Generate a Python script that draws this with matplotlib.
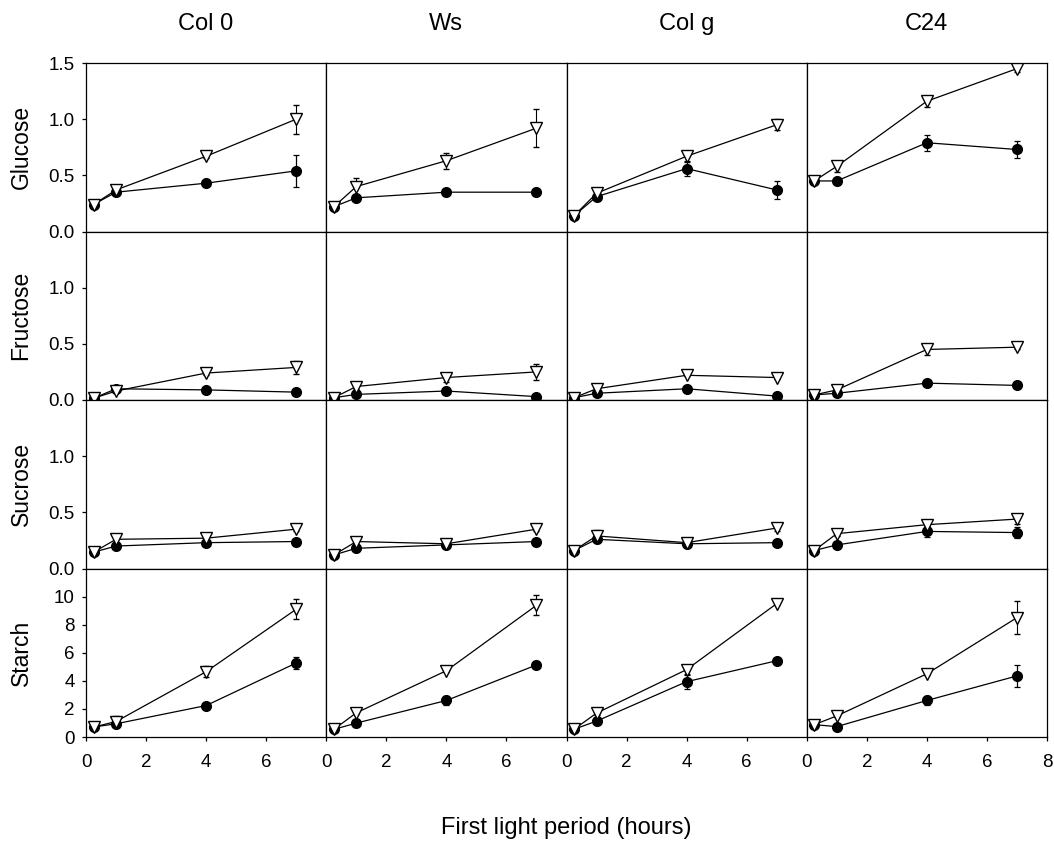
import matplotlib
matplotlib.use("Agg")
import matplotlib.pyplot as plt
import numpy as np

plt.rcParams['font.family'] = ['Liberation Sans', 'DejaVu Sans']

genotypes = ["Col 0", "Ws", "Col g", "C24"]
sugars = ["Glucose", "Fructose", "Sucrose", "Starch"]
hours = [0.25, 1, 4, 7]

# open triangles (upper series) and filled circles (lower series)
# each: [genotype][time]
glucose_tri = [[0.24, 0.37, 0.67, 1.00], [0.22, 0.40, 0.63, 0.92],
               [0.14, 0.34, 0.67, 0.95], [0.45, 0.58, 1.16, 1.45]]
glucose_tri_err = [[0.03, 0.03, 0.02, 0.13], [0.01, 0.08, 0.07, 0.17],
                   [0.01, 0.03, 0.05, 0.05], [0.02, 0.05, 0.05, 0.03]]
glucose_cir = [[0.24, 0.35, 0.43, 0.54], [0.22, 0.30, 0.35, 0.35],
               [0.14, 0.31, 0.56, 0.37], [0.45, 0.45, 0.79, 0.73]]
glucose_cir_err = [[0.03, 0.02, 0.02, 0.14], [0.01, 0.02, 0.01, 0.01],
                   [0.01, 0.02, 0.07, 0.08], [0.02, 0.01, 0.07, 0.08]]

fructose_tri = [[0.015, 0.08, 0.24, 0.29], [0.02, 0.12, 0.20, 0.25],
                [0.02, 0.10, 0.22, 0.20], [0.045, 0.09, 0.45, 0.47]]
fructose_tri_err = [[0.01, 0.01, 0.02, 0.06], [0.01, 0.02, 0.04, 0.07],
                    [0.01, 0.01, 0.01, 0.01], [0.01, 0.01, 0.05, 0.02]]
fructose_cir = [[0.015, 0.10, 0.09, 0.07], [0.02, 0.05, 0.08, 0.03],
                [0.02, 0.06, 0.10, 0.035], [0.045, 0.06, 0.15, 0.13]]
fructose_cir_err = [[0.01, 0.01, 0.01, 0.01], [0.01, 0.01, 0.01, 0.01],
                    [0.01, 0.01, 0.01, 0.01], [0.01, 0.01, 0.02, 0.01]]

sucrose_tri = [[0.145, 0.26, 0.27, 0.35], [0.12, 0.24, 0.22, 0.35],
               [0.16, 0.29, 0.23, 0.36], [0.16, 0.31, 0.39, 0.44]]
sucrose_tri_err = [[0.01, 0.02, 0.02, 0.02], [0.01, 0.02, 0.02, 0.02],
                   [0.01, 0.05, 0.01, 0.03], [0.01, 0.02, 0.03, 0.04]]
sucrose_cir = [[0.145, 0.20, 0.23, 0.24], [0.12, 0.18, 0.21, 0.24],
               [0.16, 0.26, 0.22, 0.23], [0.16, 0.21, 0.33, 0.32]]
sucrose_cir_err = [[0.01, 0.02, 0.02, 0.02], [0.01, 0.02, 0.01, 0.01],
                   [0.01, 0.02, 0.01, 0.01], [0.01, 0.02, 0.05, 0.05]]

starch_tri = [[0.71, 1.1, 4.65, 9.1], [0.54, 1.72, 4.72, 9.38],
              [0.55, 1.7, 4.8, 9.5], [0.88, 1.5, 4.5, 8.5]]
starch_tri_err = [[0.1, 0.4, 0.4, 0.7], [0.1, 0.1, 0.1, 0.7],
                  [0.1, 0.1, 0.3, 0.1], [0.1, 0.1, 0.1, 1.2]]
starch_cir = [[0.71, 0.94, 2.24, 5.27], [0.54, 0.99, 2.6, 5.13],
              [0.55, 1.13, 3.94, 5.43], [0.88, 0.74, 2.6, 4.35]]
starch_cir_err = [[0.1, 0.1, 0.1, 0.4], [0.1, 0.1, 0.3, 0.2],
                  [0.1, 0.1, 0.5, 0.1], [0.1, 0.1, 0.3, 0.8]]

tri_data = [glucose_tri, fructose_tri, sucrose_tri, starch_tri]
tri_errs = [glucose_tri_err, fructose_tri_err, sucrose_tri_err, starch_tri_err]
cir_data = [glucose_cir, fructose_cir, sucrose_cir, starch_cir]
cir_errs = [glucose_cir_err, fructose_cir_err, sucrose_cir_err, starch_cir_err]

ylims = [(0, 1.5), (0, 1.5), (0, 1.5), (0, 12)]
yticks = [[0.0, 0.5, 1.0, 1.5], [0.0, 0.5, 1.0], [0.0, 0.5, 1.0], [0, 2, 4, 6, 8, 10]]
ylabels = [["0.0", "0.5", "1.0", "1.5"], ["0.0", "0.5", "1.0"], ["0.0", "0.5", "1.0"],
           ["0", "2", "4", "6", "8", "10"]]

W, H = 1054, 843
fig = plt.figure(figsize=(W / 100, H / 100), dpi=100)
L, R, T, B = 86, 1047, 63, 737
gs = fig.add_gridspec(4, 4, left=L/W, right=R/W, top=1-T/H, bottom=1-B/H,
                      hspace=0, wspace=0)

for r in range(4):
    for c in range(4):
        ax = fig.add_subplot(gs[r, c])
        ax.errorbar(hours, cir_data[r][c], yerr=cir_errs[r][c], color='black', lw=0.9,
                    marker='o', ms=7, mfc='black', mec='black', elinewidth=0.9,
                    capsize=2, capthick=0.9, zorder=2)
        ax.errorbar(hours, tri_data[r][c], yerr=tri_errs[r][c], color='black', lw=0.9,
                    marker='v', ms=8, mfc='white', mec='black', mew=1.0, elinewidth=0.8,
                    capsize=2, capthick=0.8, zorder=3)
        ax.set_xlim(0, 8)
        ax.set_ylim(*ylims[r])
        for s in ax.spines.values():
            s.set_linewidth(0.9)
        ax.tick_params(direction='out', length=3, width=0.9, labelsize=13.5)
        ax.tick_params(axis='x', pad=9)
        ax.tick_params(axis='y', pad=5)
        ax.set_xticks([0, 2, 4, 6, 8] if c == 3 else [0, 2, 4, 6])
        if r == 3:
            ax.set_xticklabels(["0", "2", "4", "6", "8"] if c == 3 else ["0", "2", "4", "6"])
        else:
            ax.tick_params(axis='x', length=0, labelbottom=False)
        if c == 0:
            ax.set_yticks(yticks[r])
            ax.set_yticklabels(ylabels[r])
        else:
            ax.set_yticks([])

row_h = (B - T) / 4
col_w = (R - L) / 4
for r in range(4):
    yc = T + row_h * (r + 0.5)
    fig.text(21 / W, 1 - yc / H, sugars[r], rotation=90, ha='center', va='center',
             fontsize=16.5)
for c in range(4):
    xc = L + col_w * (c + 0.5)
    fig.text(xc / W, 1 - 24 / H, genotypes[c], ha='center', va='center', fontsize=17)

fig.text((L + R) / 2 / W, 1 - 828 / H, "First light period (hours)",
         ha='center', va='center', fontsize=17)

fig.savefig("out.png", dpi=100)
